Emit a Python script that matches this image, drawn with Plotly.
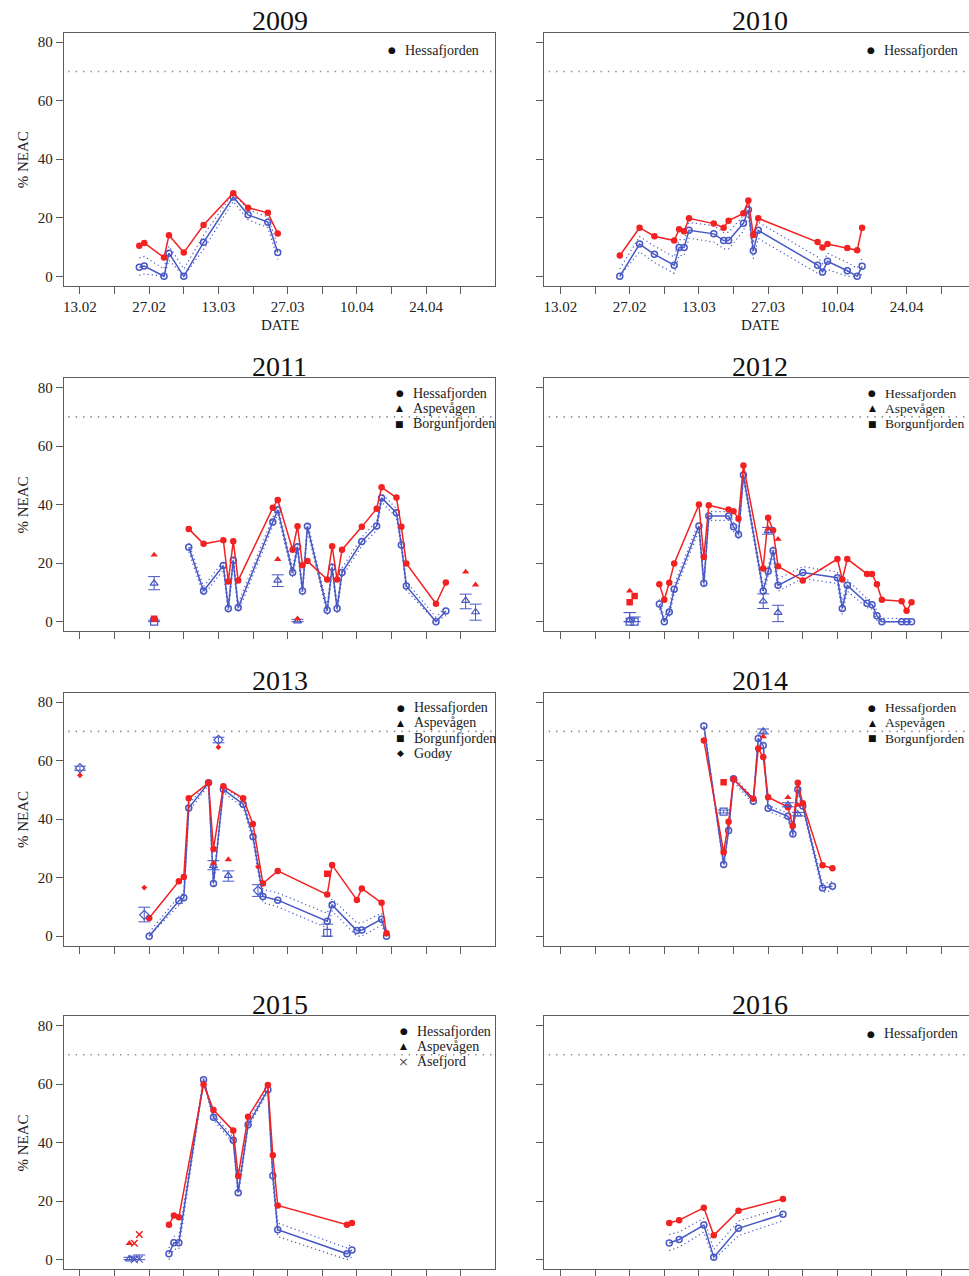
import plotly.graph_objects as go
from datetime import date

# ---------------- data (dates dd.mm, % NEAC) ----------------
# Hessafjorden: raw (red), corrected (blue), corrected CI upper/lower
H09_dates = ["25.02", "26.02", "02.03", "03.03", "06.03", "10.03", "16.03", "19.03", "23.03", "25.03"]
H09_raw = [10.4, 11.4, 6.4, 14.0, 8.1, 17.5, 28.4, 23.4, 21.7, 14.6]
H09_cor = [3.1, 3.5, 0, 7.9, 0, 11.6, 27.1, 21.0, 18.5, 8.1]
H09_hi = [6.3, 6.8, 2.5, 10.3, 2.5, 14.0, 28.5, 22.8, 20.3, 10.5]
H09_lo = [0.4, 0.8, 0, 5.5, 0, 9.2, 25.6, 19.3, 16.6, 5.8]

H10_dates = ["25.02", "01.03", "04.03", "08.03", "09.03", "10.03", "11.03", "16.03", "18.03", "19.03",
             "22.03", "23.03", "24.03", "25.03", "06.04", "07.04", "08.04", "12.04", "14.04", "15.04"]
H10_raw = [7.1, 16.6, 13.7, 12.2, 16.1, 15.4, 19.8, 18.0, 16.6, 19.0,
           21.5, 25.9, 14.1, 19.8, 11.7, 9.8, 11.0, 9.7, 8.9, 16.6]
H10_cor = [0, 11.0, 7.5, 3.8, 9.8, 9.8, 15.7, 14.5, 12.2, 12.2,
           18.1, 22.7, 8.7, 15.7, 3.8, 1.5, 5.1, 1.9, 0, 3.4]
H10_hi = [2.5, 13.6, 10.3, 6.6, 12.5, 12.5, 18.4, 17.3, 15.0, 15.0,
          20.8, 24.5, 11.4, 18.5, 6.6, 4.3, 7.9, 4.7, 2.8, 6.2]
H10_lo = [0, 8.4, 4.7, 1.0, 7.1, 7.1, 13.0, 11.7, 9.4, 9.4,
          15.4, 20.9, 6.0, 12.9, 1.0, 0, 2.3, 0, 0, 0.6]

H11_dates = ["07.03", "10.03", "14.03", "15.03", "16.03", "17.03", "24.03", "25.03", "28.03", "29.03",
             "30.03", "31.03", "04.04", "05.04", "06.04", "07.04", "11.04", "14.04", "15.04", "18.04",
             "19.04", "20.04", "26.04", "28.04"]
H11_raw = [31.7, 26.6, 27.8, 13.7, 27.5, 14.1, 38.9, 41.6, 24.6, 32.6,
           19.3, 20.7, 14.4, 25.8, 14.4, 24.6, 32.4, 38.6, 45.9, 42.4,
           32.4, 19.9, 6.1, 13.4]
H11_cor = [25.4, 10.5, 19.2, 4.5, 21.0, 4.8, 34.1, 38.2, 16.8, 25.6,
           10.5, 32.6, 3.9, 18.6, 4.5, 16.8, 27.4, 32.7, 42.3, 37.2,
           26.2, 12.2, 0, 3.6]
H11_hi = [26.9, 12.0, 20.7, 6.0, 22.5, 6.3, 35.6, 39.7, 18.3, 27.1,
          12.0, 34.1, 5.4, 20.1, 6.0, 18.3, 28.9, 34.2, 43.8, 38.7,
          27.7, 13.7, 1.5, 5.1]
H11_lo = [23.9, 9.0, 17.7, 3.0, 19.5, 3.3, 32.6, 36.7, 15.3, 24.1,
          9.0, 31.1, 2.4, 17.1, 3.0, 15.3, 25.9, 31.2, 40.8, 35.7,
          24.7, 10.7, 0, 2.1]

H12_dates = ["05.03", "06.03", "07.03", "08.03", "13.03", "14.03", "15.03", "19.03", "20.03", "21.03",
             "22.03", "26.03", "27.03", "28.03", "29.03", "03.04", "10.04", "11.04", "12.04", "16.04",
             "17.04", "18.04", "19.04", "23.04", "24.04", "25.04"]
H12_raw = [12.8, 7.5, 13.3, 19.9, 40.0, 22.1, 39.8, 38.3, 37.7, 35.2,
           53.4, 18.2, 35.5, 31.2, 18.9, 14.1, 21.4, 14.4, 21.4, 16.3,
           16.3, 12.8, 7.5, 7.0, 3.7, 6.6]
H12_cor = [6.0, 0, 3.3, 11.1, 32.7, 13.1, 36.1, 36.1, 32.4, 29.8,
           50.1, 10.5, 17.2, 24.2, 12.4, 16.8, 15.0, 4.5, 12.4, 6.3,
           5.8, 2.0, 0, 0, 0, 0]
H12_hi = [7.6, 1.5, 4.8, 12.6, 34.2, 14.6, 37.6, 37.6, 33.9, 31.3,
          51.6, 12.0, 18.7, 25.7, 14.6, 18.8, 17.0, 6.5, 14.4, 7.8,
          7.3, 3.5, 1.2, 1.0, 1.0, 1.0]
H12_lo = [4.4, 0, 1.8, 9.6, 31.2, 11.6, 34.6, 34.6, 30.9, 28.3,
          48.6, 9.0, 15.7, 22.7, 10.4, 14.8, 13.0, 2.5, 10.4, 4.8,
          4.3, 0.5, 0, 0, 0, 0]

H13_dates = ["27.02", "05.03", "06.03", "07.03", "11.03", "12.03", "14.03", "18.03", "20.03", "22.03",
             "25.03", "04.04", "05.04", "10.04", "11.04", "15.04", "16.04"]
H13_raw = [6.2, 18.8, 20.2, 47.1, 52.4, 29.8, 51.2, 47.1, 38.3, 18.0,
           22.3, 14.2, 24.3, 12.4, 16.3, 11.4, 1.0]
H13_cor = [0, 12.1, 13.1, 43.8, 52.4, 18.0, 50.2, 45.1, 34.0, 13.6,
           12.3, 5.1, 10.7, 1.9, 2.1, 5.8, 0]
H13_hi = [1.2, 13.6, 14.8, 45.0, 53.2, 19.5, 51.2, 46.3, 35.5, 16.0,
          14.8, 7.8, 12.8, 4.5, 4.6, 7.8, 1.2]
H13_lo = [0, 10.6, 11.6, 42.5, 51.6, 16.5, 49.2, 44.0, 32.5, 11.5,
          10.0, 2.8, 8.6, 0, 0, 3.8, 0]

H14_dates = ["14.03", "18.03", "19.03", "20.03", "24.03", "25.03", "26.03", "27.03", "31.03", "01.04",
             "02.04", "03.04", "07.04", "09.04"]
H14_raw = [66.9, 28.7, 39.1, 53.6, 47.0, 64.1, 61.2, 47.5, 44.1, 37.7, 52.4, 45.4, 24.2, 23.2]
H14_cor = [71.8, 24.5, 36.1, 53.8, 46.1, 67.6, 65.2, 43.7, 41.0, 34.9, 50.1, 44.5, 16.5, 17.1]
H14_hi = [72.8, 25.5, 37.1, 54.8, 47.1, 68.6, 66.2, 44.7, 42.0, 35.9, 51.1, 45.5, 18.0, 18.6]
H14_lo = [70.8, 23.5, 35.1, 52.8, 45.1, 66.6, 64.2, 42.7, 40.0, 33.9, 49.1, 43.5, 15.0, 15.6]

H15_dates = ["03.03", "04.03", "05.03", "10.03", "12.03", "16.03", "17.03", "19.03", "23.03", "24.03",
             "25.03", "08.04", "09.04"]
H15_raw = [11.9, 15.1, 14.5, 59.9, 51.1, 44.1, 28.6, 48.8, 59.7, 35.7, 18.5, 11.9, 12.5]
H15_cor = [2.0, 5.8, 5.8, 61.5, 48.7, 40.8, 22.9, 46.1, 58.1, 28.7, 10.2, 2.0, 3.3]
H15_hi = [4.0, 8.0, 8.0, 62.3, 49.6, 41.8, 24.5, 47.1, 58.9, 30.5, 12.5, 4.0, 5.7]
H15_lo = [0, 3.6, 3.6, 60.7, 47.8, 39.8, 21.3, 45.1, 57.3, 26.9, 7.9, 0, 0.9]

H16_dates = ["07.03", "09.03", "14.03", "16.03", "21.03", "30.03"]
H16_raw = [12.5, 13.5, 17.7, 8.3, 16.7, 20.7]
H16_cor = [5.7, 6.9, 11.8, 0.8, 10.7, 15.5]
H16_hi = [8.6, 9.5, 14.2, 3.5, 13.2, 17.7]
H16_lo = [3.1, 4.3, 9.4, 0, 8.2, 13.3]

# Other sites: dates, raw, corrected, CI upper, CI lower
A11_dates = ["28.02", "25.03", "29.03", "02.05", "04.05"]
A11_raw = [22.8, 21.3, 1.0, 17.0, 12.6]
A11_cor = [13.1, 14.1, 0.2, 7.2, 3.3]
A11_hi = [15.4, 16.0, 0.8, 9.4, 6.0]
A11_lo = [10.9, 12.0, 0, 4.4, 0.5]
B11_dates = ["28.02"]
B11_raw = [1.0]
B11_cor = [0]
B11_hi = [0.5]
B11_lo = [0]

A12_dates = ["27.02", "26.03", "27.03", "29.03"]
A12_raw = [10.5, 18.5, 31.8, 28.2]
A12_cor = [0.5, 7.0, 31.0, 3.1]
A12_hi = [3.1, 9.5, 32.2, 5.6]
A12_lo = [0, 4.5, 29.9, 0]
B12_dates = ["27.02", "28.02"]
B12_raw = [6.6, 8.8]
B12_cor = [0, 0]
B12_hi = [3.1, 1.6]
B12_lo = [0, 0]

G13_dates = ["13.02", "26.02", "13.03", "21.03"]
G13_raw = [55.0, 16.6, 64.6, 23.7]
G13_cor = [57.4, 7.3, 67.1, 15.6]
G13_hi = [58.1, 9.9, 68.0, 17.6]
G13_lo = [56.7, 4.9, 66.1, 13.6]
A13_dates = ["12.03", "15.03"]
A13_raw = [25.0, 26.2]
A13_cor = [24.0, 20.7]
A13_hi = [25.8, 22.3]
A13_lo = [22.7, 18.8]
B13_dates = ["04.04"]
B13_raw = [21.3]
B13_cor = [1.1]
B13_hi = [4.1]
B13_lo = [0]

A14_dates = ["26.03", "31.03", "02.04"]
A14_raw = [68.2, 47.4, 44.8]
A14_cor = [70.0, 44.9, 41.7]
A14_hi = [70.8, 45.6, 42.3]
A14_lo = [69.1, 44.2, 41.1]
B14_dates = ["18.03"]
B14_raw = [52.6]
B14_cor = [42.6]
B14_hi = [43.1]
B14_lo = [42.1]

A15_dates = ["23.02"]
A15_raw = [5.6]
A15_cor = [0.2]
A15_hi = [0.8]
A15_lo = [0]
X15_dates = ["24.02", "25.02"]
X15_raw = [5.6, 8.6]
X15_cor = [0, 0.2]
X15_hi = [1.2, 1.6]
X15_lo = [0, 0]

YEARS = ["2009", "2010", "2011", "2012", "2013", "2014", "2015", "2016"]
X_TICK_LABELS = ["13.02", "", "27.02", "", "13.03", "", "27.03", "", "10.04", "", "24.04", ""]
Y_TICKS = [0, 20, 40, 60, 80]
THRESHOLD = 70
SITE_SYMBOL = {"Hessafjorden": ("circle", "●"), "Aspevågen": ("triangle-up", "▲"),
               "Borgunfjorden": ("square", "■"), "Godøy": ("diamond", "◆"),
               "Åsefjord": ("x-thin", "×")}

# ---------------- layout constants ----------------
W, H = 969, 1276
FONT = "Liberation Serif"
RED = "#F22222"
BLUE = "#4858C4"
FRAME = "#5c5c5c"
COLS = [(63, 495), (544, 969)]
ROWS = [(33, 287), (380, 634), (696, 950), (1021, 1275)]
PX_PER_DAY = 4.95
X0 = -3.24


def doy(s):
    d, m = s.split(".")
    return (date(2009, int(m), int(d)) - date(2009, 2, 13)).days


def xs(dates):
    return [doy(d) for d in dates]


hess = [
    (H09_dates, H09_raw, H09_cor, H09_hi, H09_lo),
    (H10_dates, H10_raw, H10_cor, H10_hi, H10_lo),
    (H11_dates, H11_raw, H11_cor, H11_hi, H11_lo),
    (H12_dates, H12_raw, H12_cor, H12_hi, H12_lo),
    (H13_dates, H13_raw, H13_cor, H13_hi, H13_lo),
    (H14_dates, H14_raw, H14_cor, H14_hi, H14_lo),
    (H15_dates, H15_raw, H15_cor, H15_hi, H15_lo),
    (H16_dates, H16_raw, H16_cor, H16_hi, H16_lo),
]
others = [
    [], [],
    [("Aspevågen", A11_dates, A11_raw, A11_cor, A11_hi, A11_lo),
     ("Borgunfjorden", B11_dates, B11_raw, B11_cor, B11_hi, B11_lo)],
    [("Aspevågen", A12_dates, A12_raw, A12_cor, A12_hi, A12_lo),
     ("Borgunfjorden", B12_dates, B12_raw, B12_cor, B12_hi, B12_lo)],
    [("Godøy", G13_dates, G13_raw, G13_cor, G13_hi, G13_lo),
     ("Aspevågen", A13_dates, A13_raw, A13_cor, A13_hi, A13_lo),
     ("Borgunfjorden", B13_dates, B13_raw, B13_cor, B13_hi, B13_lo)],
    [("Aspevågen", A14_dates, A14_raw, A14_cor, A14_hi, A14_lo),
     ("Borgunfjorden", B14_dates, B14_raw, B14_cor, B14_hi, B14_lo)],
    [("Aspevågen", A15_dates, A15_raw, A15_cor, A15_hi, A15_lo),
     ("Åsefjord", X15_dates, X15_raw, X15_cor, X15_hi, X15_lo)],
    [],
]
legends = [
    ["Hessafjorden"], ["Hessafjorden"],
    ["Hessafjorden", "Aspevågen", "Borgunfjorden"],
    ["Hessafjorden", "Aspevågen", "Borgunfjorden"],
    ["Hessafjorden", "Aspevågen", "Borgunfjorden", "Godøy"],
    ["Hessafjorden", "Aspevågen", "Borgunfjorden"],
    ["Hessafjorden", "Aspevågen", "Åsefjord"],
    ["Hessafjorden"],
]
LEG_X = [391, 871, 399, 872, 400, 872, 403, 871]
LEG_SIZE = [14, 14, 14, 13.5, 14, 13.5, 14, 14]

fig = go.Figure()
annotations = []
shapes = []
layout_axes = {}


def px(x):
    return x / W


def py(y):
    return 1 - y / H


for i in range(8):
    row, col = divmod(i, 2)
    n = i + 1
    xa = "x" if n == 1 else f"x{n}"
    ya = "y" if n == 1 else f"y{n}"
    xl, xr = COLS[col]
    yt, yb = ROWS[row]
    x1 = X0 + (xr - xl) / PX_PER_DAY

    tick_text = X_TICK_LABELS if row == 0 else [""] * len(X_TICK_LABELS)
    layout_axes["xaxis" if n == 1 else f"xaxis{n}"] = dict(
        domain=[px(xl), px(xr)], anchor=ya, range=[X0, x1],
        tickmode="array", tickvals=[7 * k for k in range(len(X_TICK_LABELS))], ticktext=tick_text,
        ticks="outside", ticklen=7, tickcolor=FRAME, tickwidth=1,
        showline=True, linecolor=FRAME, linewidth=1.3, mirror=True,
        showgrid=False, zeroline=False,
        tickfont=dict(family=FONT, size=15, color="#222"),
    )
    layout_axes["yaxis" if n == 1 else f"yaxis{n}"] = dict(
        domain=[py(yb), py(yt)], anchor=xa, range=[-3.2, 83.2],
        tickmode="array", tickvals=Y_TICKS,
        ticktext=[str(v) for v in Y_TICKS] if col == 0 else [""] * len(Y_TICKS),
        ticks="outside", ticklen=7, tickcolor=FRAME, tickwidth=1,
        showline=True, linecolor=FRAME, linewidth=1.3, mirror=(col == 0),
        showgrid=False, zeroline=False,
        tickfont=dict(family=FONT, size=15, color="#222"),
    )

    # threshold line
    shapes.append(dict(type="line", xref=f"{xa} domain", yref=ya, x0=0.01, x1=1,
                       y0=THRESHOLD, y1=THRESHOLD,
                       line=dict(color="#8c8c8c", width=1.6, dash="1.4px,6px")))

    d, raw, cor, hi, lo = hess[i]
    xv = xs(d)
    for band in (hi, lo):
        fig.add_trace(go.Scatter(x=xv, y=band, xaxis=xa, yaxis=ya, mode="lines",
                                 line=dict(color=BLUE, width=1.2, dash="1.2px,3px"),
                                 showlegend=False, hoverinfo="skip"))
    fig.add_trace(go.Scatter(x=xv, y=cor, xaxis=xa, yaxis=ya, mode="lines+markers",
                             line=dict(color=BLUE, width=1.5),
                             marker=dict(symbol="circle-open", size=6, color=BLUE, line=dict(width=1.5)),
                             showlegend=False))
    fig.add_trace(go.Scatter(x=xv, y=raw, xaxis=xa, yaxis=ya, mode="lines+markers",
                             line=dict(color=RED, width=1.5),
                             marker=dict(symbol="circle", size=6.5, color=RED),
                             showlegend=False))

    for site, sd, sraw, scor, shi, slo in others[i]:
        sym = SITE_SYMBOL[site][0]
        sx = xs(sd)
        small = site == "Godøy"
        open_sym = sym + "-open" if sym != "x-thin" else "x-thin"
        fig.add_trace(go.Scatter(
            x=sx, y=scor, xaxis=xa, yaxis=ya, mode="markers",
            marker=dict(symbol=open_sym, size=7, color=BLUE, line=dict(width=1.2, color=BLUE)),
            error_y=dict(type="data", symmetric=False,
                         array=[h - c for h, c in zip(shi, scor)],
                         arrayminus=[c - l for c, l in zip(scor, slo)],
                         color=BLUE, thickness=1, width=6),
            showlegend=False))
        fig.add_trace(go.Scatter(
            x=sx, y=sraw, xaxis=xa, yaxis=ya, mode="markers",
            marker=dict(symbol=sym, size=4.5 if small else 6.5, color=RED,
                        line=dict(width=1.5 if sym == "x-thin" else 0, color=RED)),
            showlegend=False))

    # title
    annotations.append(dict(text=YEARS[i], x=px((xl + (xl + 432)) / 2), y=py(yt - 12),
                            xref="paper", yref="paper", showarrow=False,
                            xanchor="center", yanchor="middle",
                            font=dict(family=FONT, size=28, color="#111")))
    # y title
    if col == 0:
        annotations.append(dict(text="% NEAC", x=px(22), y=py((yt + yb) / 2), xref="paper", yref="paper",
                                showarrow=False, textangle=-90, xanchor="center", yanchor="middle",
                                font=dict(family=FONT, size=15, color="#222")))
    if row == 0:
        annotations.append(dict(text="DATE", x=px((xl + (xl + 432)) / 2), y=py(327), xref="paper",
                                yref="paper", showarrow=False, xanchor="center", yanchor="middle",
                                font=dict(family=FONT, size=15, color="#222")))
    # legend
    labels = legends[i]
    off = 17.5 if len(labels) == 1 else 15
    for k, lab in enumerate(labels):
        yy = yt + off + 15.3 * k
        annotations.append(dict(text=SITE_SYMBOL[lab][1], x=px(LEG_X[i]), y=py(yy), xref="paper",
                                yref="paper", showarrow=False, xanchor="center", yanchor="middle",
                                font=dict(family="DejaVu Sans", size=9 if lab != "Åsefjord" else 13,
                                          color="#111" if lab != "Åsefjord" else "#555")))
        annotations.append(dict(text=lab, x=px(LEG_X[i] + 11), y=py(yy), xref="paper", yref="paper",
                                showarrow=False, xanchor="left", yanchor="middle",
                                font=dict(family=FONT, size=LEG_SIZE[i], color="#222")))

fig.update_layout(
    width=W, height=H, margin=dict(l=0, r=0, t=0, b=0),
    paper_bgcolor="white", plot_bgcolor="white",
    showlegend=False, annotations=annotations, shapes=shapes,
    **layout_axes,
)

fig.write_html("out.html", config={"displayModeBar": False},
               post_script="document.body.style.margin='0';document.body.style.overflow='hidden';")
